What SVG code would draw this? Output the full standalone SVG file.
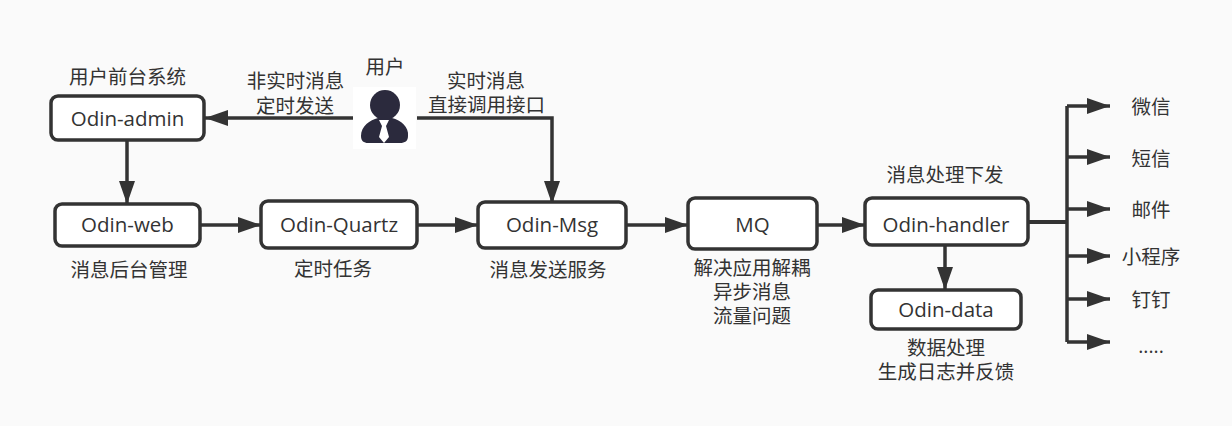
<svg xmlns="http://www.w3.org/2000/svg" width="1232" height="426" viewBox="0 0 1232 426">
<style>
.bg{fill:#fafafa}
.box{fill:#fff;stroke:#333;stroke-width:3.5}
text{font-family:"Open Sans","Noto Sans CJK SC",sans-serif;font-size:19.5px;fill:#333;text-anchor:middle}
text.l{font-size:20.500px}
.c{fill:none;stroke:#333;stroke-width:3.5}
</style>
<defs>
<marker id="a" markerUnits="userSpaceOnUse" markerWidth="24" markerHeight="18" refX="23" refY="8" orient="auto"><path d="M0 0L23 8L0 16Z" fill="#333"/></marker>
</defs>
<rect class="bg" width="1232" height="426"/>
<g id="connectors">
<path class="c" marker-end="url(#a)" d="M353 118H205"/>
<path class="c" marker-end="url(#a)" d="M417 118H552V204"/>
<path class="c" marker-end="url(#a)" d="M127 141V204"/>
<path class="c" marker-end="url(#a)" d="M200 225H261"/>
<path class="c" marker-end="url(#a)" d="M417 225H478"/>
<path class="c" marker-end="url(#a)" d="M626 225H688"/>
<path class="c" marker-end="url(#a)" d="M817 225H865"/>
<path class="c" marker-end="url(#a)" d="M945 245V290"/>
<path class="c" style="stroke-width:4" d="M1028 222H1067"/>
<path class="c" marker-end="url(#a)" d="M1067 106H1110"/>
<path class="c" marker-end="url(#a)" d="M1067 157H1110"/>
<path class="c" marker-end="url(#a)" d="M1067 209H1110"/>
<path class="c" marker-end="url(#a)" d="M1067 256H1110"/>
<path class="c" marker-end="url(#a)" d="M1067 299H1110"/>
<path class="c" marker-end="url(#a)" d="M1067 342H1110"/>
<path class="c" d="M1067 106V342"/>
</g>
<g id="user">
<rect x="353" y="87" width="63" height="62" fill="#fff"/>
<circle cx="385" cy="105" r="15" fill="#2b2a3d"/>
<path d="M361 136C361 126 370 120 378 118H392C401 120 409 127 408 136C408 141 405 143 400 143H368C364 143 361 141 361 136Z" fill="#2b2a3d"/>
<path d="M379 120H389L386 126L389 137L384 143L379 137L382 126Z" fill="#fff"/>
<text x="385" y="74">用户</text>
</g>
<g id="n-admin"><rect class="box" x="51" y="96" width="153" height="44" rx="7"/><text class="l" x="127.500" y="126">Odin-admin</text><text x="127.500" y="84">用户前台系统</text></g>
<g id="n-web"><rect class="box" x="55" y="204" width="145" height="42" rx="7"/><text class="l" x="127.500" y="232">Odin-web</text><text x="129" y="277">消息后台管理</text></g>
<g id="n-quartz"><rect class="box" x="261" y="201" width="156" height="47" rx="7"/><text class="l" x="339" y="232">Odin-Quartz</text><text x="333" y="276">定时任务</text></g>
<g id="n-msg"><rect class="box" x="478" y="202" width="148" height="46" rx="7"/><text class="l" x="552" y="232">Odin-Msg</text><text x="548" y="277">消息发送服务</text></g>
<g id="n-mq"><rect class="box" x="688" y="198" width="129" height="51" rx="7"/><text class="l" x="752.500" y="232">MQ</text><text x="752" y="275">解决应用解耦</text><text x="752" y="299">异步消息</text><text x="752" y="323">流量问题</text></g>
<g id="n-handler"><rect class="box" x="865" y="198" width="163" height="47" rx="7"/><text class="l" x="946" y="232">Odin-handler</text><text x="945" y="182">消息处理下发</text></g>
<g id="n-data"><rect class="box" x="871" y="290" width="150" height="39" rx="7"/><text class="l" x="946" y="317">Odin-data</text><text x="946" y="355">数据处理</text><text x="946" y="379">生成日志并反馈</text></g>
<g id="labels">
<text x="295.500" y="88">非实时消息</text><text x="295" y="113">定时发送</text>
<text x="486" y="88">实时消息</text><text x="486.500" y="112">直接调用接口</text>
<text x="1151" y="114">微信</text><text x="1151" y="166">短信</text><text x="1151" y="217">邮件</text><text x="1151" y="264">小程序</text><text x="1151" y="307">钉钉</text><text x="1151" y="353">.....</text>
</g>
</svg>
